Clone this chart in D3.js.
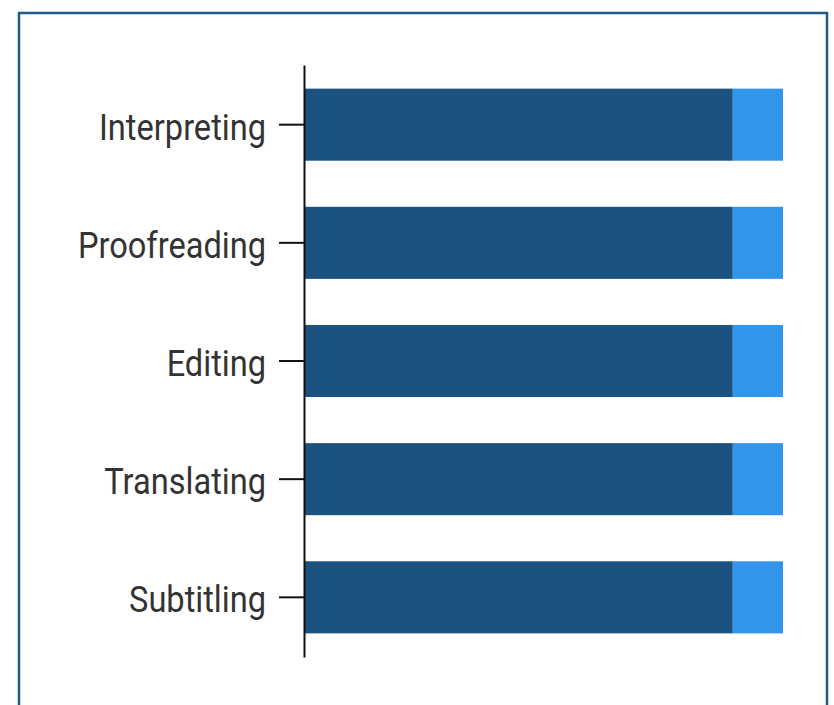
<!DOCTYPE html>
<html>
<head>
<meta charset="utf-8">
<script src="https://cdn.jsdelivr.net/npm/d3@7"></script>
<style>
  body { margin: 0; background: #fff; }
  .tick text { font-family: Roboto, sans-serif; fill: #333; }
</style>
</head>
<body>
<svg></svg>
<script>
let tasks = ["Interpreting", "Proofreading", "Editing", "Translating", "Subtitling"]
let mainShare = [89.5, 89.5, 89.5, 89.5, 89.5]   // dark part
let restShare = [10.5, 10.5, 10.5, 10.5, 10.5]   // light part
let colors = ["#1c5280", "#3195eb"]

var svg = d3.select("svg")
    .attr("width", 834)
    .attr("height", 705)

// frame round the chart (runs past the bottom of the window)
svg.append("rect")
    .attr("x", 19).attr("y", 13)
    .attr("width", 808).attr("height", 740)
    .attr("fill", "none")
    .attr("stroke", "#1f5a8a")
    .attr("stroke-width", 2.5)

var margin = {top: 65, left: 304}
var graphWidth = 478
var graphHeight = 592

var g = svg.append("g")
    .attr("transform", `translate(${margin.left}, ${margin.top})`)

let scX = d3.scaleLinear()
    .domain([0, 100])
    .range([0, graphWidth])

let scY = d3.scaleBand()
    .domain(tasks)
    .range([0, graphHeight])
    .paddingInner(0.39)
    .paddingOuter(0.2)

let stacked = d3.stack().keys(["main", "rest"])(
    tasks.map((t, i) => ({task: t, main: mainShare[i], rest: restShare[i]})))

g.selectAll("g.layer")
    .data(stacked).enter().append("g")
    .attr("class", "layer")
    .attr("fill", (d, i) => colors[i])
    .selectAll("rect")
    .data(d => d).enter().append("rect")
    .attr("x", d => scX(d[0]) + 1)
    .attr("y", d => scY(d.data.task))
    .attr("width", d => scX(d[1]) - scX(d[0]))
    .attr("height", scY.bandwidth())

let yAxis = d3.axisLeft(scY)
    .tickSize(25)
    .tickPadding(14)
    .tickSizeOuter(0)

let ax = g.append("g").call(yAxis)
ax.select(".domain").attr("stroke", "#111").attr("stroke-width", 2)
ax.selectAll(".tick line").attr("stroke", "#111").attr("stroke-width", 2)
ax.selectAll(".tick text")
    .attr("font-size", 36)
    .attr("x", 0)
    .attr("dy", "0.42em")
    .attr("transform", "translate(-38,0) scale(0.905,1)") //condensed look
</script>
</body>
</html>
